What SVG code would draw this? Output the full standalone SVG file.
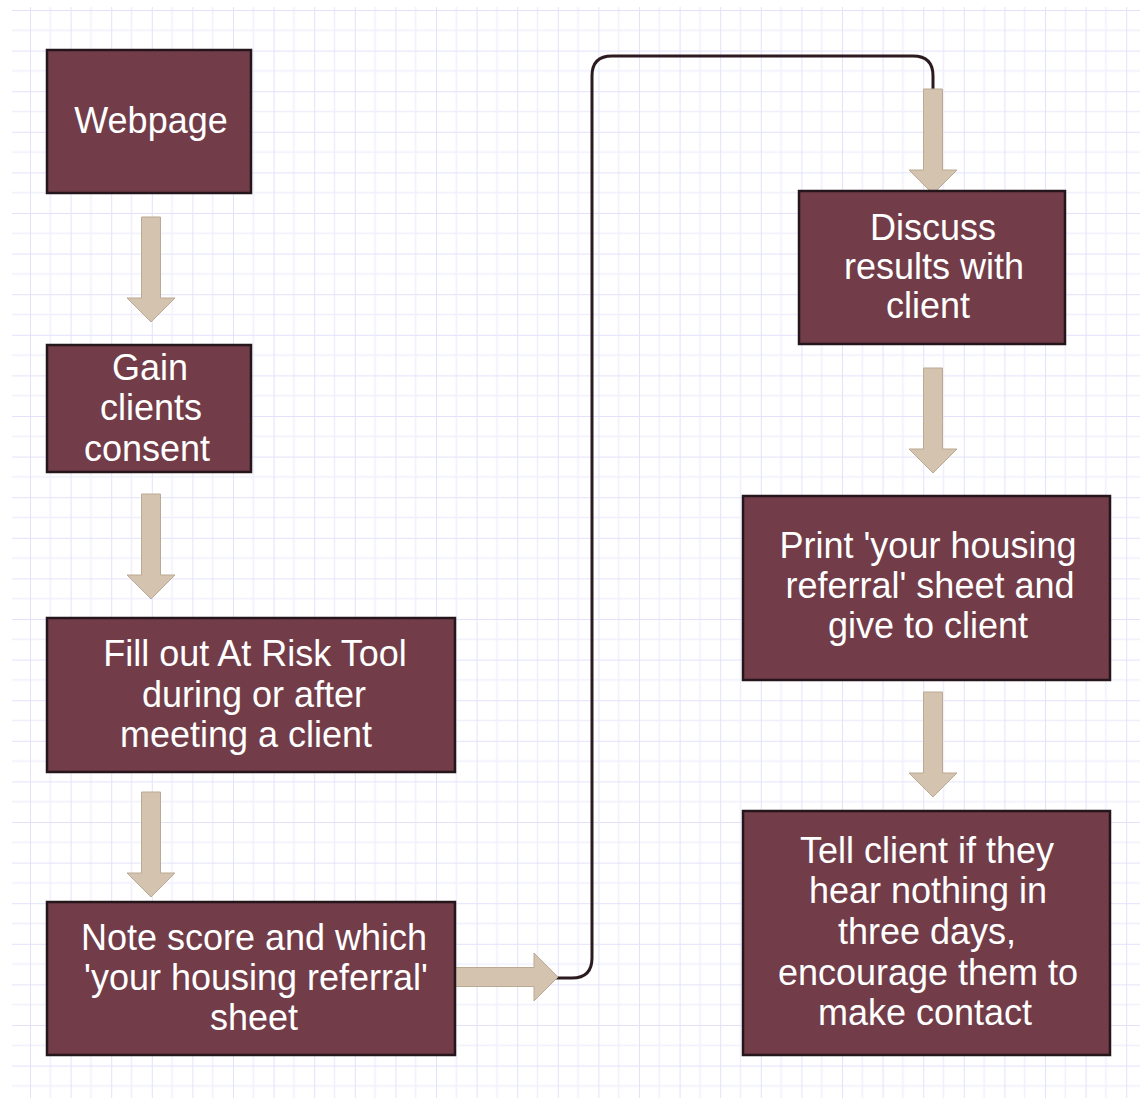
<svg xmlns="http://www.w3.org/2000/svg" xmlns:xlink="http://www.w3.org/1999/xlink" width="1140" height="1098" viewBox="0 0 1140 1098">
<style>
.box{fill:#723d49;stroke:#24161a;stroke-width:2.5}
.lbl{font-family:"Liberation Sans",Arial,sans-serif;font-size:36px;fill:#ffffff;text-anchor:middle}
.arr{fill:#d4c3ae;stroke:#bba993;stroke-width:1}
.conn{fill:none;stroke:#2b1a1e;stroke-width:3}
</style>
<defs>
<pattern id="grid" patternUnits="userSpaceOnUse" x="30" y="10" width="40.6" height="40.6">
<path d="M20.3,0V40.6M0,20.3H40.6" stroke="#f0f0fd" stroke-width="1.5" fill="none"/>
<path d="M0,0V40.6M0,0H40.6" stroke="#e2e2fb" stroke-width="2" fill="none"/>
</pattern>
<path id="arrow" d="M-9.5,0H9.5V81H24L0,105L-24,81H-9.5Z"/>
</defs>
<rect width="1140" height="1098" fill="#ffffff"/>
<rect x="12" y="7" width="1128" height="1091" fill="url(#grid)"/>
<g id="connectors">
<path class="conn" d="M555,978H572Q592,978 592,958V76Q592,56 612,56H913Q933,56 933,76V92"/>
<use xlink:href="#arrow" class="arr" transform="translate(151,217)"/>
<use xlink:href="#arrow" class="arr" transform="translate(151,494)"/>
<use xlink:href="#arrow" class="arr" transform="translate(151,792)"/>
<use xlink:href="#arrow" class="arr" transform="translate(453,977) rotate(-90)"/>
<use xlink:href="#arrow" class="arr" transform="translate(933,89)"/>
<use xlink:href="#arrow" class="arr" transform="translate(933,368)"/>
<use xlink:href="#arrow" class="arr" transform="translate(933,692)"/>
</g>
<g id="webpage">
<rect class="box" x="47" y="50" width="204" height="143"/>
<text class="lbl" x="151" y="133">Webpage</text>
</g>
<g id="gain-consent">
<rect class="box" x="47" y="345" width="204" height="127"/>
<text class="lbl" x="150" y="380">Gain</text>
<text class="lbl" x="151" y="420">clients</text>
<text class="lbl" x="147" y="461">consent</text>
</g>
<g id="fill-out">
<rect class="box" x="47" y="618" width="408" height="154"/>
<text class="lbl" x="255" y="666">Fill out At Risk Tool</text>
<text class="lbl" x="254" y="707">during or after</text>
<text class="lbl" x="246" y="747">meeting a client</text>
</g>
<g id="note-score">
<rect class="box" x="47" y="902" width="408" height="153"/>
<text class="lbl" x="254" y="950">Note score and which</text>
<text class="lbl" x="256" y="990">'your housing referral'</text>
<text class="lbl" x="254" y="1030">sheet</text>
</g>
<g id="discuss">
<rect class="box" x="799" y="191" width="266" height="153"/>
<text class="lbl" x="933" y="240">Discuss</text>
<text class="lbl" x="934" y="279">results with</text>
<text class="lbl" x="928" y="318">client</text>
</g>
<g id="print">
<rect class="box" x="743" y="496" width="367" height="184"/>
<text class="lbl" x="928" y="558">Print 'your housing</text>
<text class="lbl" x="930" y="598">referral' sheet and</text>
<text class="lbl" x="928" y="638">give to client</text>
</g>
<g id="tell">
<rect class="box" x="743" y="811" width="367" height="244"/>
<text class="lbl" x="927" y="863">Tell client if they</text>
<text class="lbl" x="928" y="903">hear nothing in</text>
<text class="lbl" x="927" y="944">three days,</text>
<text class="lbl" x="928" y="985">encourage them to</text>
<text class="lbl" x="925" y="1025">make contact</text>
</g>
</svg>
